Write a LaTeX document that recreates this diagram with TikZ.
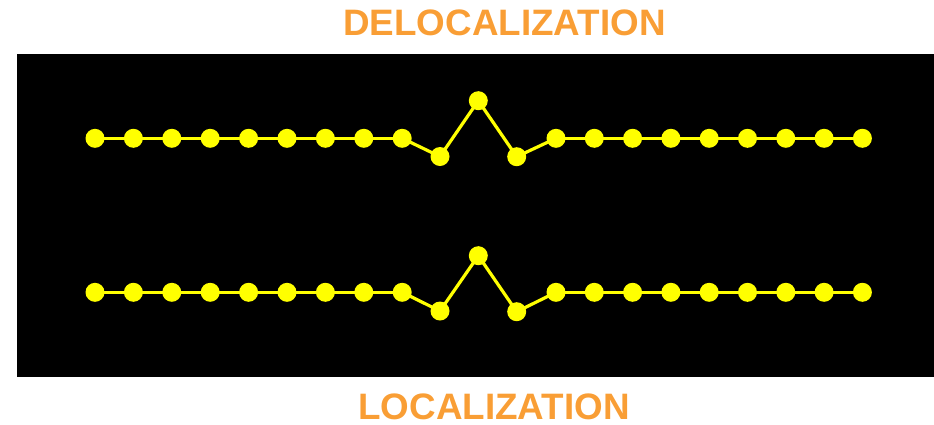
\documentclass[tikz,border=0pt]{standalone}
\usepackage{fontspec}
\setmainfont{Liberation Sans}
\definecolor{titleorange}{HTML}{F99E35}
\definecolor{chainyellow}{HTML}{FFFF00}
\tikzset{
  bead/.style={circle, fill=chainyellow, draw=none, inner sep=0pt, minimum size=19pt},
  bond/.style={draw=chainyellow, line width=3.2pt},
  heading/.style={text=titleorange, font=\fontsize{36.8}{40}\selectfont\bfseries, inner sep=0pt, anchor=base}
}
\begin{document}
\begin{tikzpicture}[x=1pt,y=-1pt]
\useasboundingbox (0,0) rectangle (934,424);
\fill[black] (17,54) rectangle (934,377);
\node[heading] (top) at (504.5,35.7) {DELOCALIZATION};
\node[heading] (bottom) at (494,419) {LOCALIZATION};
% top chain
\foreach \i in {0,...,8} {
  \node[bead] (a\i) at ({95+38.4*\i},138.3) {};
}
\node[bead] (a9) at (440,156.5) {};
\node[bead] (a10) at (478.3,100.7) {};
\node[bead] (a11) at (516.7,156.7) {};
\foreach \j [evaluate=\j as \k using int(\j+12)] in {0,...,8} {
  \node[bead] (a\k) at ({556+38.3*\j},138.3) {};
}
\foreach \i [evaluate=\i as \n using int(\i+1)] in {0,...,19} {
  \draw[bond] (a\i.center) -- (a\n.center);
}
% bottom chain
\foreach \i in {0,...,8} {
  \node[bead] (b\i) at ({95+38.4*\i},292.3) {};
}
\node[bead] (b9) at (440,311) {};
\node[bead] (b10) at (478.3,255.7) {};
\node[bead] (b11) at (516.7,311.7) {};
\foreach \j [evaluate=\j as \k using int(\j+12)] in {0,...,8} {
  \node[bead] (b\k) at ({556+38.3*\j},292.3) {};
}
\foreach \i [evaluate=\i as \n using int(\i+1)] in {0,...,19} {
  \draw[bond] (b\i.center) -- (b\n.center);
}
\end{tikzpicture}
\end{document}
